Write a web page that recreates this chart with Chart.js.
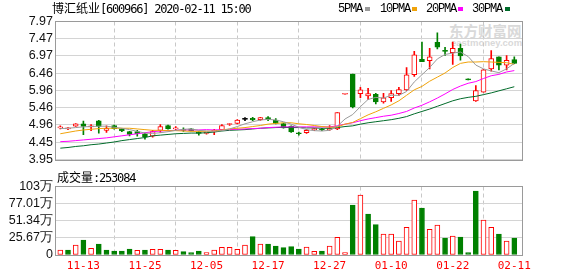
<!DOCTYPE html>
<html>
<head>
<meta charset="utf-8">
<title>博汇纸业 日K</title>
<script src="https://cdn.jsdelivr.net/npm/chart.js@4.4.1/dist/chart.umd.min.js"></script>
<style>
    body { margin: 0; width: 578px; height: 276px; background: #fff; position: relative; overflow: hidden; }
    canvas { position: absolute; left: 0; }
    #priceChart { top: 0; }
    #volChart { top: 170px; }
    .txt { position: absolute; white-space: nowrap; line-height: 14px; color: #000; }
    .cjk { font-family: 'Noto Sans CJK SC', sans-serif; font-size: 12px; }
    .mono { font-family: 'DejaVu Sans Mono', monospace; font-size: 12px; letter-spacing: -1.2px; }
    .leg { font-family: 'Liberation Mono', monospace; font-size: 12px; letter-spacing: -1.2px; }
    .sw { position: absolute; top: 7px; width: 5px; height: 4px; }
    .wm { position: absolute; color: #d9d9d9; font-weight: bold; white-space: nowrap; }
</style>
</head>
<body>
<div class="wm" style="left:449px;top:22px;font:bold 14.5px 'Noto Sans CJK SC',sans-serif;line-height:18px;color:#d9d9d9">东方财富网</div>
<div class="wm" style="left:451px;top:37px;font:bold 9.5px 'Liberation Sans',Arial,sans-serif;line-height:11px;color:#d9d9d9">eastmoney.com</div>

<canvas id="priceChart" width="578" height="170"></canvas>
<canvas id="volChart" width="578" height="106"></canvas>

<div class="txt" style="left:52px;top:1px"><span class="cjk">博汇纸业</span><span class="mono">[600966] 2020-02-11 15:00</span></div>
<div class="txt leg" style="left:338px;top:2px">5PMA</div><div class="sw" style="left:365px;background:#9a9a9a"></div>
<div class="txt leg" style="left:380px;top:2px">10PMA</div><div class="sw" style="left:412px;background:#f0a30a"></div>
<div class="txt leg" style="left:426px;top:2px">20PMA</div><div class="sw" style="left:458px;background:#ff00ff"></div>
<div class="txt leg" style="left:472px;top:2px">30PMA</div><div class="sw" style="left:505px;background:#006b2a"></div>
<div class="txt" style="left:57px;top:170px"><span class="cjk">成交量</span><span class="mono">:253084</span></div>

<script>
// Trading days, MM-DD
const dates = ['11-08', '11-11', '11-12', '11-13', '11-14', '11-15', '11-18', '11-19', '11-20', '11-21',
    '11-22', '11-25', '11-26', '11-27', '11-28', '11-29', '12-02', '12-03', '12-04', '12-05',
    '12-06', '12-09', '12-10', '12-11', '12-12', '12-13', '12-16', '12-17', '12-18', '12-19',
    '12-20', '12-23', '12-24', '12-25', '12-26', '12-27', '12-30', '12-31', '01-02', '01-03',
    '01-06', '01-07', '01-08', '01-10', '01-13', '01-14', '01-15', '01-16', '01-17', '01-20',
    '01-21', '01-22', '01-23', '02-03', '02-04', '02-05', '02-06', '02-07', '02-10', '02-11'];

const opens = [4.87, 4.84, 4.92, 4.99, 4.90, 5.08, 4.80, 4.94, 4.84, 4.76,
    4.76, 4.70, 4.63, 4.80, 4.94, 4.84, 4.82, 4.84, 4.75, 4.71,
    4.76, 4.82, 4.97, 5.00, 5.12, 5.15, 5.11, 5.17, 5.10, 5.00,
    4.92, 4.71, 4.73, 4.82, 4.83, 4.82, 4.84, 5.85, 6.44, 5.87,
    5.80, 5.85, 5.63, 5.75, 5.87, 5.98, 6.42, 6.87, 6.83, 7.36,
    7.11, 7.06, 7.19, 6.27, 5.66, 5.91, 6.59, 6.94, 6.70, 6.86];
const highs = [4.93, 4.88, 5.00, 5.07, 4.97, 5.09, 4.93, 4.95, 4.85, 4.77,
    4.80, 4.72, 4.80, 4.97, 4.95, 4.91, 4.87, 4.85, 4.76, 4.73,
    4.83, 4.97, 5.00, 5.11, 5.17, 5.18, 5.18, 5.20, 5.14, 5.01,
    4.93, 4.75, 4.83, 4.86, 4.86, 4.94, 5.32, 5.85, 6.44, 6.05,
    6.02, 5.88, 5.88, 5.96, 6.05, 6.63, 7.10, 7.37, 7.19, 7.64,
    7.22, 7.37, 7.31, 6.27, 6.10, 6.58, 7.12, 6.94, 6.98, 6.94];
const lows = [4.84, 4.82, 4.91, 4.67, 4.79, 4.72, 4.74, 4.83, 4.76, 4.64,
    4.63, 4.54, 4.60, 4.74, 4.83, 4.80, 4.77, 4.78, 4.66, 4.69,
    4.67, 4.80, 4.94, 4.99, 5.08, 5.08, 5.09, 5.08, 4.99, 4.86,
    4.74, 4.66, 4.71, 4.79, 4.79, 4.80, 4.82, 5.85, 5.45, 5.75,
    5.70, 5.57, 5.59, 5.64, 5.82, 5.96, 6.37, 6.80, 6.59, 7.17,
    6.98, 6.72, 6.84, 6.27, 5.64, 5.91, 6.52, 6.56, 6.56, 6.74];
const closes = [4.89, 4.85, 4.99, 4.91, 4.92, 4.91, 4.86, 4.85, 4.78, 4.68,
    4.70, 4.61, 4.76, 4.91, 4.84, 4.86, 4.80, 4.79, 4.71, 4.72,
    4.81, 4.94, 5.00, 5.10, 5.12, 5.10, 5.17, 5.11, 5.00, 4.87,
    4.75, 4.70, 4.80, 4.83, 4.81, 4.84, 5.32, 5.85, 5.48, 5.98,
    5.87, 5.63, 5.75, 5.87, 5.99, 6.42, 7.00, 6.80, 6.94, 7.22,
    7.10, 7.19, 6.97, 6.27, 5.96, 6.56, 6.89, 6.70, 6.84, 6.75];
const prevClose = 4.86;

// Volume in lots (手)
const volumes = [75000, 75000, 150000, 225000, 100000, 165000, 75000, 60000, 60000, 90000,
    70000, 75000, 85000, 85000, 75000, 70000, 50000, 35000, 60000, 35000,
    75000, 115000, 115000, 85000, 150000, 275000, 165000, 165000, 135000, 110000,
    125000, 90000, 120000, 55000, 60000, 135000, 265000, 35000, 750000, 900000,
    615000, 455000, 315000, 315000, 210000, 415000, 825000, 705000, 385000, 450000,
    255000, 285000, 270000, 35000, 960000, 525000, 415000, 315000, 210000, 253084];

// Moving averages
const ma5 = [4.85, 4.86, 4.88, 4.90, 4.91, 4.92, 4.92, 4.89, 4.86, 4.82,
    4.77, 4.72, 4.71, 4.73, 4.76, 4.80, 4.83, 4.84, 4.80, 4.78,
    4.77, 4.79, 4.84, 4.91, 4.99, 5.05, 5.10, 5.12, 5.10, 5.05,
    4.98, 4.89, 4.82, 4.79, 4.78, 4.80, 4.92, 5.13, 5.26, 5.49,
    5.70, 5.76, 5.74, 5.82, 5.82, 5.93, 6.21, 6.42, 6.63, 6.88,
    7.01, 7.05, 7.08, 6.95, 6.70, 6.59, 6.53, 6.48, 6.59, 6.75];
const ma10 = [4.70, 4.74, 4.78, 4.81, 4.83, 4.85, 4.86, 4.86, 4.86, 4.86,
    4.84, 4.82, 4.80, 4.80, 4.79, 4.79, 4.78, 4.77, 4.77, 4.77,
    4.78, 4.81, 4.84, 4.86, 4.88, 4.91, 4.94, 4.98, 5.00, 5.02,
    5.02, 4.99, 4.97, 4.94, 4.91, 4.89, 4.90, 4.98, 5.03, 5.14,
    5.25, 5.34, 5.44, 5.54, 5.66, 5.82, 5.98, 6.08, 6.23, 6.35,
    6.47, 6.63, 6.75, 6.79, 6.79, 6.80, 6.79, 6.78, 6.77, 6.72];
const ma20 = [4.47, 4.48, 4.50, 4.52, 4.54, 4.56, 4.58, 4.61, 4.64, 4.67,
    4.70, 4.73, 4.76, 4.78, 4.79, 4.80, 4.81, 4.81, 4.81, 4.82,
    4.81, 4.82, 4.82, 4.83, 4.84, 4.85, 4.86, 4.88, 4.89, 4.90,
    4.90, 4.90, 4.90, 4.90, 4.90, 4.90, 4.93, 4.98, 5.02, 5.08,
    5.13, 5.17, 5.21, 5.24, 5.29, 5.35, 5.45, 5.53, 5.63, 5.74,
    5.86, 5.99, 6.09, 6.17, 6.22, 6.31, 6.39, 6.43, 6.50, 6.54];
const ma30 = [4.28, 4.30, 4.33, 4.35, 4.38, 4.40, 4.43, 4.46, 4.50, 4.53,
    4.56, 4.59, 4.64, 4.66, 4.68, 4.70, 4.71, 4.72, 4.72, 4.73,
    4.75, 4.78, 4.80, 4.81, 4.82, 4.84, 4.86, 4.87, 4.88, 4.885,
    4.88, 4.88, 4.87, 4.87, 4.86, 4.86, 4.88, 4.91, 4.93, 4.98,
    5.02, 5.05, 5.08, 5.11, 5.15, 5.20, 5.28, 5.35, 5.42, 5.50,
    5.58, 5.66, 5.72, 5.76, 5.79, 5.84, 5.89, 5.95, 6.01, 6.07];

const priceTicks = [3.95, 4.45, 4.96, 5.46, 5.96, 6.46, 6.97, 7.47, 7.97];
const volTicks = [0, 256700, 513400, 770100, 1026800];
const volTickLabels = ['0', '25.67万', '51.34万', '77.01万', '103万'];
const xTickLabels = ['11-13', '11-25', '12-05', '12-17', '12-27', '01-10', '01-22', '02-11'];

const UP = '#ff0000';
const DOWN = '#008000';

// Candle colour: close vs open; one-price days follow the previous close
const candleColors = closes.map((c, i) => {
    const o = opens[i];
    if (c > o) return UP;
    if (c < o) return DOWN;
    if (highs[i] === lows[i]) return c >= (i ? closes[i - 1] : prevClose) ? UP : DOWN;
    return '#000';
});
// Volume colour: close vs previous close
const volColors = closes.map((c, i) => c >= (i ? closes[i - 1] : prevClose) ? UP : DOWN);

const frame = {
    id: 'frame',
    afterDraw(chart) {
        const { ctx, chartArea: a } = chart;
        ctx.save();
        ctx.strokeStyle = '#9a9a9a';
        ctx.lineWidth = 1;
        const l = Math.round(a.left) - 0.5, t = Math.round(a.top) - 0.5;
        const r = Math.round(a.right) + 0.5, b = Math.round(a.bottom) + 0.5;
        ctx.strokeRect(l, t, r - l, b - t);
        ctx.restore();
    }
};

const labelFont = { family: "'Liberation Sans', Arial, sans-serif", size: 12.5 };

function xScale(showLabels) {
    return {
        type: 'linear',
        min: -0.56,
        max: 60,
        offset: false,
        afterBuildTicks: s => { s.ticks = xTickLabels.map(l => ({ value: dates.indexOf(l) })); },
        afterFit: s => { s.height = showLabels ? 21 : 0; },
        grid: { color: '#c8c8c8', drawTicks: false },
        border: { display: false, dash: [4, 3] },
        ticks: {
            display: showLabels,
            autoSkip: false,
            maxRotation: 0,
            color: '#ff0000',
            padding: 5,
            font: { family: "'DejaVu Sans Mono', monospace", size: 11 },
            callback: v => dates[v]
        }
    };
}

function yScale(min, max, ticks, label) {
    return {
        min,
        max,
        afterBuildTicks: s => { s.ticks = ticks.map(v => ({ value: v })); },
        afterFit: s => { s.width = 56; },
        grid: { color: '#d4d4d4', drawTicks: false },
        border: { display: false },
        ticks: { autoSkip: false, color: '#111', padding: 3, font: labelFont, callback: label }
    };
}

const xy = arr => arr.map((v, i) => ({ x: i, y: v }));

function maLine(data, color) {
    return {
        type: 'line',
        data: xy(data),
        borderColor: color,
        borderWidth: 1,
        pointRadius: 0,
        tension: 0,
        order: 0
    };
}

new Chart(document.getElementById('priceChart'), {
    type: 'bar',
    data: {
        datasets: [
            {
                data: opens.map((o, i) => ({ x: i, y: [lows[i], highs[i]] })),
                backgroundColor: candleColors,
                borderWidth: 0,
                barThickness: 1,
                minBarLength: 1,
                grouped: false,
                order: 2
            },
            {
                data: opens.map((o, i) => ({ x: i, y: [o, closes[i]] })),
                backgroundColor: candleColors.map(c => c === UP ? '#ffffff' : c),
                borderColor: candleColors,
                borderWidth: 1,
                borderSkipped: false,
                barThickness: 5,
                minBarLength: 1,
                grouped: false,
                order: 1
            },
            maLine(ma5, '#9a9a9a'),
            maLine(ma10, '#f0a30a'),
            maLine(ma20, '#ff00ff'),
            maLine(ma30, '#006b2a')
        ]
    },
    options: {
        responsive: false,
        animation: false,
        events: [],
        layout: { padding: { left: 0, right: 56, top: 21.5, bottom: 4.7 } },
        plugins: { legend: { display: false }, tooltip: { enabled: false } },
        scales: {
            x: xScale(false),
            y: yScale(3.95, 7.97, priceTicks, v => v.toFixed(2))
        }
    },
    plugins: [frame]
});

new Chart(document.getElementById('volChart'), {
    type: 'bar',
    data: {
        datasets: [{
            data: xy(volumes),
            backgroundColor: volColors.map(c => c === UP ? '#ffffff' : c),
            borderColor: volColors,
            borderWidth: 1,
            borderSkipped: false,
            barThickness: 5,
            grouped: false
        }]
    },
    options: {
        responsive: false,
        animation: false,
        events: [],
        layout: { padding: { left: 0, right: 56, top: 16.5, bottom: 0 } },
        plugins: { legend: { display: false }, tooltip: { enabled: false } },
        scales: {
            x: xScale(true),
            y: yScale(0, 1026800, volTicks, (v, i) => volTickLabels[i])
        }
    },
    plugins: [frame]
});
</script>
</body>
</html>
